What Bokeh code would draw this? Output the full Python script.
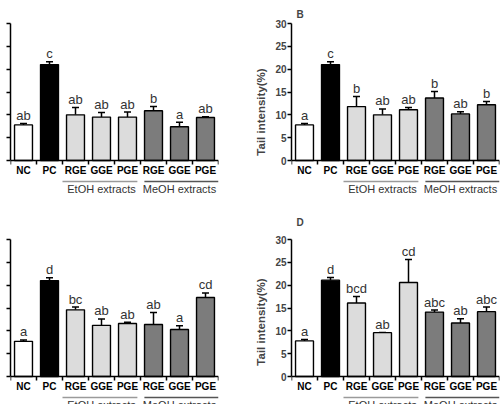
from bokeh.plotting import figure
from bokeh.layouts import gridplot
from bokeh.models import (ColumnDataSource, FactorRange, Range1d,
                          FixedTicker, Whisker, TeeHead)
from bokeh.core.properties import value
from bokeh.embed import file_html
from bokeh.resources import INLINE

# ---------------- data ----------------
groups = ["", "", "EtOH extracts", "EtOH extracts", "EtOH extracts",
          "MeOH extracts", "MeOH extracts", "MeOH extracts"]
categories = ["NC", "PC", "RGE", "GGE", "PGE", "RGE", "GGE", "PGE"]
y_ticks = [0, 5, 10, 15, 20, 25, 30]

vals_A = [7.8, 21.0, 10.0, 9.5, 9.5, 10.9, 7.4, 9.4]
sem_A = [0.3, 0.6, 1.6, 1.0, 1.1, 0.9, 1.0, 0.2]
let_A = ["ab", "c", "ab", "ab", "ab", "b", "a", "ab"]

vals_B = [7.8, 21.0, 11.8, 10.0, 11.1, 13.7, 10.2, 12.2]
sem_B = [0.3, 0.6, 2.2, 1.3, 0.5, 1.4, 0.5, 0.7]
let_B = ["a", "c", "b", "ab", "ab", "b", "ab", "b"]

vals_C = [7.7, 21.0, 14.6, 11.2, 11.6, 11.4, 10.3, 17.3]
sem_C = [0.3, 0.6, 0.6, 1.4, 0.3, 2.6, 0.8, 1.0]
let_C = ["a", "d", "bc", "ab", "ab", "ab", "a", "cd"]

vals_D = [7.8, 21.1, 16.1, 9.6, 20.6, 14.1, 11.7, 14.2]
sem_D = [0.3, 0.6, 1.4, 0.05, 5.0, 0.45, 0.95, 1.0]
let_D = ["a", "d", "bcd", "ab", "cd", "abc", "ab", "abc"]

# ---------------- style ----------------
FONT = "Liberation Sans"
bar_colors = ["white", "black", "#dcdcdc", "#dcdcdc", "#dcdcdc",
              "#7c7c7c", "#7c7c7c", "#7c7c7c"]
line_colors = {"EtOH extracts": "#9a9a9a", "MeOH extracts": "#555555"}
PX = 137 / 30.0   # px per y unit


def panel(vals, sems, letters, width, height, left, right, top,
          show_y_labels, title=None, title_standoff=8):
    factors = list(zip(groups, categories))
    frame_h = height - top
    lo = -(frame_h - 137) / PX
    p = figure(width=width, height=height,
               x_range=FactorRange(*factors, factor_padding=0,
                                   group_padding=0, range_padding=0),
               y_range=Range1d(lo, y_ticks[-1]),
               output_backend="svg", toolbar_location=None,
               min_border_left=left, min_border_right=right,
               min_border_top=top, min_border_bottom=0)
    p.outline_line_color = None
    p.xgrid.visible = False
    p.ygrid.visible = False
    p.background_fill_color = "white"
    p.border_fill_color = "white"

    tops = [v + s for v, s in zip(vals, sems)]
    lab_y = [t + 8 / PX for t in tops]
    src = ColumnDataSource(dict(x=factors, top=vals, up=tops, ly=lab_y,
                                color=bar_colors, lab=letters))
    p.vbar(x="x", top="top", bottom=0, width=0.69, source=src,
           fill_color="color", line_color="black", line_width=1.4)
    w = Whisker(base="x", lower="top", upper="up", source=src,
                dimension="height", line_color="black", line_width=1.5,
                lower_head=None,
                upper_head=TeeHead(size=7, line_color="black",
                                   line_width=1.5))
    p.add_layout(w)
    p.text(x="x", y="ly", text="lab", source=src, text_align="center",
           text_baseline="alphabetic",
           text_font_size="13px", text_color="#333333",
           text_font=value(FONT))

    # x tick marks between bars (Prism style)
    n = len(categories)
    p.segment(x0=list(range(n + 1)), x1=list(range(n + 1)),
              y0=[0] * (n + 1), y1=[-4 / PX] * (n + 1),
              line_color="black", line_width=1.5)

    # group underlines
    for g in ["EtOH extracts", "MeOH extracts"]:
        idx = [i for i, gg in enumerate(groups) if gg == g]
        x0 = idx[0] + (0.0 if g.startswith("Et") else 0.15)
        x1 = idx[-1] + 1 - (0.12 if g.startswith("Et") else 0.0)
        p.segment(x0=[x0], x1=[x1], y0=[-21 / PX], y1=[-21 / PX],
                  line_color=line_colors[g], line_width=1.5)

    # categorical x axis at y = 0
    xa = p.xaxis[0]
    xa.fixed_location = 0
    xa.axis_line_width = 1.5
    xa.axis_line_color = "black"
    xa.major_tick_line_color = None
    xa.major_tick_out = 0
    xa.major_tick_in = 0
    xa.major_label_standoff = 4
    xa.major_label_text_font = FONT
    xa.major_label_text_font_style = "bold"
    xa.major_label_text_font_size = "10px"
    xa.major_label_text_color = "black"
    xa.group_text_font = FONT
    xa.group_text_font_style = "normal"
    xa.group_text_font_size = "11px"
    xa.group_text_color = "#333333"
    xa.separator_line_color = None

    ya = p.yaxis[0]
    ya.bounds = (y_ticks[0], y_ticks[-1])
    ya.ticker = FixedTicker(ticks=y_ticks)
    ya.minor_tick_line_color = None
    ya.major_tick_in = 0
    ya.major_tick_out = 4
    ya.major_tick_line_width = 1.5
    ya.axis_line_width = 1.5
    ya.major_label_standoff = 1
    ya.major_label_text_font = FONT
    ya.major_label_text_font_style = "bold"
    ya.major_label_text_font_size = "10px"
    if show_y_labels:
        ya.axis_label = "Tail intensity(%)"
        ya.axis_label_text_font = FONT
        ya.axis_label_text_font_style = "bold"
        ya.axis_label_text_font_size = "11.5px"
        ya.axis_label_standoff = 5
    else:
        ya.major_label_overrides = {t: "" for t in y_ticks}
        ya.major_label_standoff = 0

    if title:
        p.title.text = title
        p.title.text_font = FONT
        p.title.text_font_style = "bold"
        p.title.text_font_size = "10px"
        p.title.align = "left"
        p.title.offset = 5
        p.title.standoff = title_standoff
    return p


pA = panel(vals_A, sem_A, let_A, 250, 200, 10, 32, 23, False)
pB = panel(vals_B, sem_B, let_B, 253, 200, 41, 4, 23, True, "B", 8)
pC = panel(vals_C, sem_C, let_C, 250, 204, 10, 32, 39, False)
pD = panel(vals_D, sem_D, let_D, 253, 204, 41, 4, 39, True, "D", 24)

layout = gridplot([[pA, pB], [pC, pD]], toolbar_location=None)

open("out.html", "w").write(file_html(layout, INLINE))
